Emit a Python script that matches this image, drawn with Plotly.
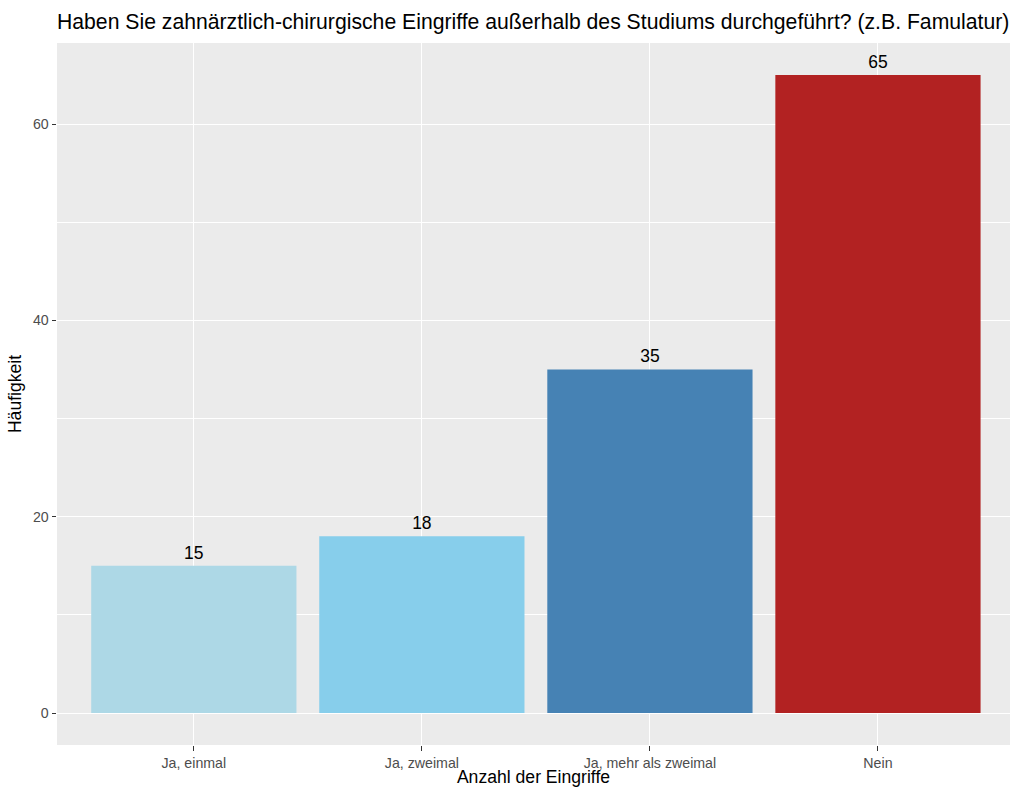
import plotly.graph_objects as go

categories = ["Ja, einmal", "Ja, zweimal", "Ja, mehr als zweimal", "Nein"]
counts = [15, 18, 35, 65]
bar_colors = ["#ADD8E6", "#87CEEB", "#4682B4", "#B22222"]
y_ticks = [0, 20, 40, 60]

FONT = "Liberation Sans, Arial, Helvetica, sans-serif"

fig = go.Figure(go.Bar(
    x=categories,
    y=counts,
    width=0.9,
    marker=dict(color=bar_colors, line=dict(width=0)),
    text=[str(v) for v in counts],
    textposition="outside",
    textfont=dict(family=FONT, size=17.5, color="black"),
    cliponaxis=False,
))

fig.update_layout(
    width=1010, height=787,
    margin=dict(l=57, r=0, t=43, b=42),
    paper_bgcolor="white",
    plot_bgcolor="#EBEBEB",
    font=dict(family=FONT),
    showlegend=False,
    title=dict(
        text="Haben Sie zahnärztlich-chirurgische Eingriffe außerhalb des Studiums durchgeführt? (z.B. Famulatur)",
        x=57/1010, xanchor="left", y=1 - 22/787, yanchor="middle",
        font=dict(family=FONT, size=21.2, color="black"),
    ),
    bargap=0.1,
)

fig.update_xaxes(
    range=[-0.6, 3.579],
    showgrid=True, gridcolor="white", gridwidth=1.4,
    ticks="outside", ticklen=4.5, tickwidth=1.1, tickcolor="#333333",
    tickfont=dict(family=FONT, size=14.2, color="#4D4D4D"),
    title=dict(text="Anzahl der Eingriffe", font=dict(family=FONT, size=17.6, color="black"), standoff=2),
    zeroline=False, showline=False,
)

fig.update_yaxes(
    range=[-3.25, 68.25],
    tickvals=y_ticks,
    showgrid=True, gridcolor="white", gridwidth=1.4,
    minor=dict(tickvals=[10, 30, 50], showgrid=True, gridcolor="white", gridwidth=0.7, ticks=""),
    ticks="outside", ticklen=4.5, tickwidth=1.1, tickcolor="#333333",
    tickfont=dict(family=FONT, size=14.2, color="#4D4D4D"),
    title=dict(text="Häufigkeit", font=dict(family=FONT, size=17.6, color="black"), standoff=6),
    zeroline=False, showline=False,
)

fig.write_html(
    "out.html",
    config={"displayModeBar": False},
    post_script="document.body.style.margin='0';document.body.style.overflow='hidden';",
)
